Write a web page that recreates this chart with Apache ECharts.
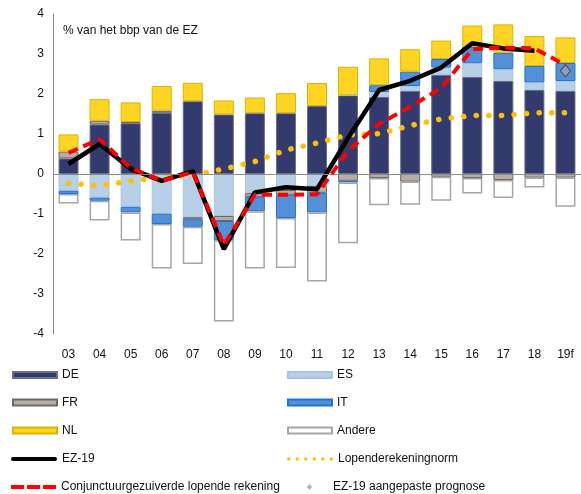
<!DOCTYPE html>
<html>
<head>
<meta charset="utf-8">
<script src="https://cdn.jsdelivr.net/npm/echarts@6/dist/echarts.min.js"></script>
<style>
html,body{margin:0;padding:0;background:#fff;}
#c{width:581px;height:494px;}
</style>
</head>
<body>
<div id="c"></div>
<script>
const years = ['03','04','05','06','07','08','09','10','11','12','13','14','15','16','17','18','19f'];
const DE = [0.39, 1.24, 1.27, 1.53, 1.82, 1.49, 1.52, 1.52, 1.70, 1.97, 1.93, 2.075, 2.475, 2.43, 2.33, 2.10, 2.075];
const FR = [0.17, 0.09, 0.03, 0.05, -0.05, -0.125, -0.09, -0.12, -0.17, -0.17, -0.10, -0.19, -0.07, -0.10, -0.15, -0.09, -0.09];
const ES = [-0.42, -0.59, -0.82, -0.99, -1.08, -1.05, -0.48, -0.40, -0.30, 0, 0.12, 0.125, 0.185, 0.34, 0.29, 0.19, 0.25];
const IT = [-0.08, -0.08, -0.14, -0.26, -0.19, -0.475, -0.36, -0.58, -0.49, -0.04, 0.17, 0.36, 0.215, 0.41, 0.41, 0.41, 0.45];
const NL = [0.43, 0.54, 0.49, 0.62, 0.46, 0.35, 0.39, 0.50, 0.575, 0.71, 0.67, 0.56, 0.46, 0.53, 0.71, 0.75, 0.64];
const Andere = [-0.24, -0.49, -0.70, -1.11, -0.93, -2.04, -1.43, -1.25, -1.73, -1.52, -0.68, -0.58, -0.60, -0.39, -0.45, -0.25, -0.73];
const EZ19 = [0.25, 0.75, 0.13, -0.17, 0.07, -1.88, -0.46, -0.33, -0.38, 0.90, 2.10, 2.33, 2.66, 3.27, 3.14, 3.08, null];
const Conj = [0.53, 0.87, 0.15, -0.17, 0.05, -1.78, -0.52, -0.52, -0.51, 0.58, 1.25, 1.68, 2.15, 3.12, 3.16, 3.14, 2.72];
const Norm = [-0.23, -0.29, -0.18, -0.08, -0.03, 0.125, 0.31, 0.60, 0.775, 0.98, 1.01, 1.21, 1.375, 1.46, 1.46, 1.53, 1.53];
const Prognose = [null, null, null, null, null, null, null, null, null, null, null, null, null, null, null, null, 2.58];
const yTicks = [-4, -3, -2, -1, 0, 1, 2, 3, 4];

const pos = a => a.map(v => v > 0 ? v : '-');
const neg = a => a.map(v => v < 0 ? v : '-');
const FONT = 'Liberation Sans, Arial, sans-serif';

const chart = echarts.init(document.getElementById('c'), null, {renderer: 'canvas'});
const barBase = {type: 'bar', stack: 's', barWidth: 20, animation: false};
const stDE = {color: '#333a6e', borderColor: '#6b6f8c', borderWidth: 1};
const stFR = {color: '#b8aca6', borderColor: '#6f6864', borderWidth: 1};
const stES = {color: '#b8cfe8', borderColor: '#a9c4e4', borderWidth: 1};
const stIT = {color: '#5590d6', borderColor: '#1f74d8', borderWidth: 1};
const stNL = {color: '#ffd422', borderColor: '#dcb400', borderWidth: 1};
const stAn = {color: '#ffffff', borderColor: '#a6a6a6', borderWidth: 1.5};

const legendText = {fontFamily: FONT, fontSize: 12, color: '#111', lineHeight: 14};
function leg(name, left, center, w, h, icon, extra) {
  const item = Object.assign({name: name, icon: icon}, extra || {});
  return {
    show: true, orient: 'horizontal', left: left, top: center - 5, padding: 0,
    itemWidth: w, itemHeight: h, symbolKeepAspect: false,
    textStyle: Object.assign({}, legendText, (extra && extra.textStyle) || {}),
    data: [item]
  };
}
const dash3 = 'path://M0,0H13V4H0Z M16,0H29V4H16Z M32,0H45V4H32Z';
const roundLine = 'path://M2,0H44A2,2 0 0 1 44,4H2A2,2 0 0 1 2,0Z';
let dotsPath = 'path://';
for (let i = 0; i < 6; i++) {
  const cx = 1.75 + 8.5 * i;
  dotsPath += 'M' + (cx - 1.75) + ',1.75A1.75,1.75 0 1 1 ' + (cx + 1.75) + ',1.75A1.75,1.75 0 1 1 ' + (cx - 1.75) + ',1.75Z ';
}

chart.setOption({
  animation: false,
  textStyle: {fontFamily: FONT},
  title: {
    text: '% van het bbp van de EZ', left: 58, top: 20,
    textStyle: {fontFamily: FONT, fontSize: 12, fontWeight: 'normal', color: '#111'}
  },
  grid: {left: 53, top: 14, bottom: 160, right: -5, containLabel: false},
  xAxis: {
    type: 'category', data: years,
    axisLine: {show: false}, axisTick: {show: false},
    axisLabel: {color: '#111', fontSize: 12, fontFamily: FONT, margin: 15, interval: 0}
  },
  yAxis: {
    type: 'value', min: -4, max: 4, interval: 1,
    axisLine: {show: true, lineStyle: {color: '#8c8c8c', width: 1}},
    axisTick: {show: false}, splitLine: {show: false},
    axisLabel: {color: '#111', fontSize: 12, fontFamily: FONT, margin: 9,
      formatter: v => yTicks.includes(v) ? String(v) : ''}
  },
  legend: [
    leg('DE', 12, 373, 44, 6, 'rect'),
    leg('FR', 12, 400.5, 44, 6, 'rect'),
    leg('NL', 12, 428.5, 44, 6, 'rect'),
    leg('EZ-19', 11, 457, 46, 4, roundLine),
    leg('Conjunctuurgezuiverde lopende rekening', 11, 485, 45, 4, dash3),
    leg('ES', 287, 373, 44, 6, 'rect'),
    leg('IT', 287, 400.5, 44, 6, 'rect'),
    leg('Andere', 287, 428.5, 44, 6, 'rect'),
    leg('Lopenderekeningnorm', 287, 457, 46, 3.5, dotsPath),
    leg('EZ-19 aangepaste prognose', 307, 485, 5, 6, 'diamond',
      {itemStyle: {color: '#9a9a9a', borderWidth: 0}, textStyle: {padding: [0, 0, 0, 16]}})
  ],
  series: [
    Object.assign({}, barBase, {name: 'DE', data: DE, itemStyle: stDE,
      markLine: {silent: true, symbol: 'none', label: {show: false},
        lineStyle: {color: '#8c8c8c', width: 1, type: 'solid'}, data: [{yAxis: 0}]}}),
    Object.assign({}, barBase, {name: 'FR', data: pos(FR), itemStyle: stFR}),
    Object.assign({}, barBase, {name: 'ES', data: ES, itemStyle: stES}),
    Object.assign({}, barBase, {name: 'FR', data: neg(FR), itemStyle: stFR}),
    Object.assign({}, barBase, {name: 'IT', data: IT, itemStyle: stIT}),
    Object.assign({}, barBase, {name: 'NL', data: NL, itemStyle: stNL}),
    Object.assign({}, barBase, {name: 'Andere', data: Andere, itemStyle: stAn}),
    {
      name: 'Lopenderekeningnorm', type: 'line', data: Norm, symbol: 'none',
      lineStyle: {color: '#ffc000', width: 5.5, type: [0.1, 12.5], cap: 'round'},
      itemStyle: {color: '#ffc000'}, z: 3
    },
    {
      name: 'EZ-19', type: 'line', data: EZ19, symbol: 'none',
      lineStyle: {color: '#000', width: 4.5}, itemStyle: {color: '#000'}, z: 4
    },
    {
      name: 'Conjunctuurgezuiverde lopende rekening', type: 'line', data: Conj, symbol: 'none',
      lineStyle: {color: '#ff0000', width: 4, type: [10, 6]}, itemStyle: {color: '#ff0000'}, z: 5
    },
    {
      name: 'EZ-19 aangepaste prognose', type: 'scatter', data: Prognose,
      symbol: 'diamond', symbolSize: [10, 12],
      itemStyle: {color: '#a6a6a6', borderColor: '#333', borderWidth: 1}, z: 6
    }
  ]
});
</script>
</body>
</html>
